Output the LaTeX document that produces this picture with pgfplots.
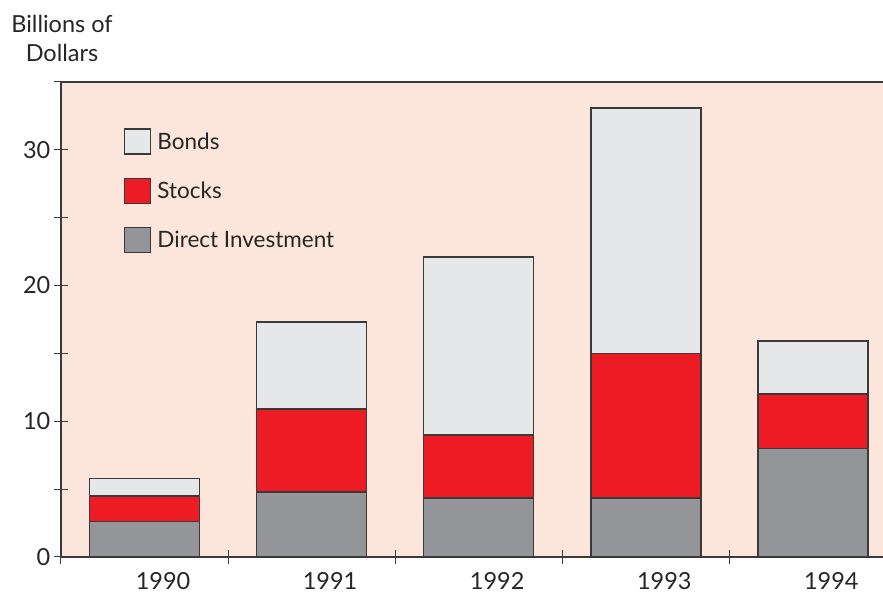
\documentclass[border=0pt]{standalone}
\usepackage{pgfplots}
\pgfplotsset{compat=1.18}
\usepackage{fontspec}
\setmainfont{Lato}
\definecolor{peach}{HTML}{FCE5DA}
\definecolor{bondc}{HTML}{E6E7E8}
\definecolor{stockc}{HTML}{ED1C24}
\definecolor{directc}{HTML}{939598}
\definecolor{edgec}{HTML}{3A3A3A}
\begin{document}
\begin{tikzpicture}[x=1pt,y=1pt]
\path[use as bounding box] (0,0) rectangle (883,602);
\begin{axis}[
  at={(61pt,45pt)}, anchor=south west,
  scale only axis, width=822pt, height=475pt,
  xmin=-0.5, xmax=4.42, ymin=0, ymax=35,
  ybar stacked, bar width=110pt,
  axis background/.style={fill=peach},
  axis x line=box, axis y line=left,
  y axis line style={-},
  axis line style={draw=edgec, line width=1.2pt},
  xtick pos=bottom, ytick pos=left,
  xtick={-0.5,0.5,1.5,2.5,3.5}, xticklabels={},
  extra x ticks={0,1,2,3,4},
  extra x tick labels={1990,1991,1992,1993,1994},
  extra x tick style={major tick length=0pt, xticklabel style={xshift=18.5pt, yshift=-12pt}},
  ytick={0,10,20,30}, minor ytick={5,15,25,35},
  major tick length=13pt, minor tick length=13pt, tick align=center,
  tick style={draw=edgec, line width=1pt},
  /pgf/number format/assume math mode=true,
  ticklabel style={font=\fontsize{23.5}{28}\selectfont, text=black!85},
  yticklabel style={inner sep=4pt},
  reverse legend,
  legend style={at={(0.0766,0.903)}, anchor=north west, draw=none, fill=none,
    inner sep=0pt, row sep=23pt, column sep=4pt,
    font=\fontsize{22.5}{27}\selectfont, text=black!85},
  legend cell align=left,
  legend image code/.code={\draw[#1, line width=1.3pt] (0pt,-12pt) rectangle (26pt,13pt);},
]
\addplot[fill=directc, draw=edgec, line width=1.5pt] coordinates {(0,2.6) (1,4.8) (2,4.35) (3,4.35) (4,8.0)};
\addplot[fill=stockc, draw=edgec, line width=1.5pt] coordinates {(0,1.9) (1,6.1) (2,4.65) (3,10.65) (4,4.0)};
\addplot[fill=bondc, draw=edgec, line width=1.5pt] coordinates {(0,1.3) (1,6.4) (2,13.1) (3,18.1) (4,3.9)};
\legend{Direct Investment, Stocks, Bonds}
\end{axis}
\node[align=center, font=\fontsize{23.5}{29}\selectfont, text=black!85] at (62,564) {Billions of\\Dollars};
\end{tikzpicture}
\end{document}
